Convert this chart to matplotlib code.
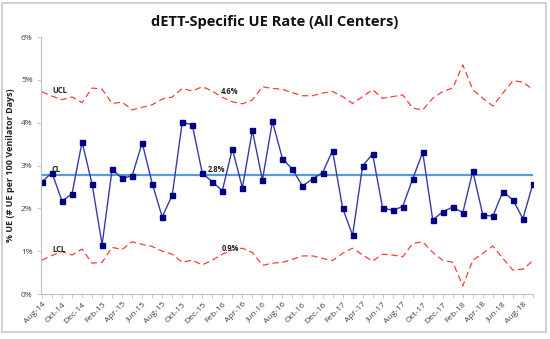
import matplotlib.pyplot as plt
from matplotlib.patches import Rectangle
from matplotlib.ticker import FuncFormatter

months = ["Aug-14", "Sep-14", "Oct-14", "Nov-14", "Dec-14", "Jan-15", "Feb-15", "Mar-15", "Apr-15", "May-15",
          "Jun-15", "Jul-15", "Aug-15", "Sep-15", "Oct-15", "Nov-15", "Dec-15", "Jan-16", "Feb-16", "Mar-16",
          "Apr-16", "May-16", "Jun-16", "Jul-16", "Aug-16", "Sep-16", "Oct-16", "Nov-16", "Dec-16", "Jan-17",
          "Feb-17", "Mar-17", "Apr-17", "May-17", "Jun-17", "Jul-17", "Aug-17", "Sep-17", "Oct-17", "Nov-17",
          "Dec-17", "Jan-18", "Feb-18", "Mar-18", "Apr-18", "May-18", "Jun-18", "Jul-18", "Aug-18", "Sep-18"]

ue_rate = [2.62, 2.83, 2.17, 2.34, 3.55, 2.57, 1.15, 2.91, 2.70, 2.76,
           3.53, 2.58, 1.80, 2.31, 4.01, 3.95, 2.82, 2.62, 2.41, 3.39,
           2.48, 3.82, 2.66, 4.03, 3.16, 2.91, 2.52, 2.69, 2.83, 3.35,
           2.01, 1.37, 2.99, 3.27, 2.00, 1.96, 2.04, 2.69, 3.31, 1.73,
           1.92, 2.03, 1.90, 2.87, 1.84, 1.82, 2.39, 2.20, 1.76, 2.58]

ucl = [4.72, 4.62, 4.54, 4.60, 4.47, 4.81, 4.78, 4.45, 4.48, 4.30,
       4.36, 4.42, 4.55, 4.60, 4.80, 4.74, 4.84, 4.74, 4.59, 4.49,
       4.44, 4.53, 4.84, 4.80, 4.78, 4.70, 4.63, 4.63, 4.69, 4.73,
       4.61, 4.45, 4.61, 4.77, 4.57, 4.61, 4.65, 4.34, 4.30, 4.57,
       4.73, 4.81, 5.35, 4.77, 4.57, 4.39, 4.69, 4.98, 4.95, 4.77]

lcl = [0.79, 0.90, 0.99, 0.91, 1.05, 0.72, 0.74, 1.09, 1.04, 1.22,
       1.16, 1.11, 1.00, 0.93, 0.74, 0.79, 0.68, 0.79, 0.93, 1.03,
       1.07, 0.97, 0.67, 0.72, 0.74, 0.81, 0.89, 0.89, 0.83, 0.78,
       0.95, 1.07, 0.91, 0.77, 0.93, 0.91, 0.87, 1.18, 1.22, 0.97,
       0.79, 0.74, 0.19, 0.79, 0.95, 1.12, 0.83, 0.56, 0.58, 0.78]

cl = 2.77

font = "Open Sans"
x = list(range(len(months)))

fig = plt.figure(figsize=(5.5, 3.39), dpi=100)
fig.patches.append(Rectangle((0.004, 0.021), 0.989, 0.969, transform=fig.transFigure,
                             fill=False, edgecolor="#c8c8c8", linewidth=1.2))
ax = fig.add_axes([0.0745, 0.1327, 0.8945, 0.758])

ax.plot(x, ucl, color="#ff3b3b", linestyle=(0, (5, 3)), linewidth=0.9)
ax.plot(x, lcl, color="#ff3b3b", linestyle=(0, (5, 3)), linewidth=0.9)
ax.axhline(cl, color="#5b9bd5", linewidth=1.6)
ax.plot(x, ue_rate, color="#3a3aa6", linewidth=1.0, marker="s", markersize=3.6,
        markerfacecolor="#000080", markeredgecolor="#000080")

txt = dict(fontsize=5.5, fontweight="bold", family=font, color="#222222")
ax.text(1.0, 4.76, "UCL", ha="left", va="center", **txt)
ax.text(1.0, 2.90, "CL", ha="left", va="center", **txt)
ax.text(1.0, 1.03, "LCL", ha="left", va="center", **txt)
ax.text(17.9, 4.73, "4.6%", ha="left", va="center", **txt)
ax.text(16.5, 2.90, "2.8%", ha="left", va="center", **txt)
ax.text(17.9, 1.07, "0.9%", ha="left", va="center", **txt)

ax.set_xlim(-0.1, 49)
ax.set_ylim(0, 6)
ax.set_yticks(range(7))
ax.yaxis.set_major_formatter(FuncFormatter(lambda v, p: f"{int(v)}%"))
ax.set_xticks(x)
ax.set_xticklabels([m if i % 2 == 0 else "" for i, m in enumerate(months)],
                   rotation=45, ha="right", rotation_mode="anchor")
ax.tick_params(axis="x", length=3, width=0.6, color="#bfbfbf", labelsize=6, pad=2)
ax.tick_params(axis="y", length=3, width=0.6, color="#bfbfbf", labelsize=6, pad=3)
for lab in ax.get_xticklabels() + ax.get_yticklabels():
    lab.set_family(font)
    lab.set_color("#404040")

for side in ["top", "right"]:
    ax.spines[side].set_visible(False)
for side in ["left", "bottom"]:
    ax.spines[side].set_color("#bfbfbf")
    ax.spines[side].set_linewidth(0.8)

ax.set_ylabel("% UE (# UE per 100 Venilator Days)", fontsize=6.5, fontweight="bold",
              family=font, color="#222222", labelpad=4)
fig.text(0.5, 0.935, "dETT-Specific UE Rate (All Centers)", ha="center", va="center",
         fontsize=10.5, fontweight="bold", family=font, color="#111111")

fig.savefig("out.png", dpi=100)
